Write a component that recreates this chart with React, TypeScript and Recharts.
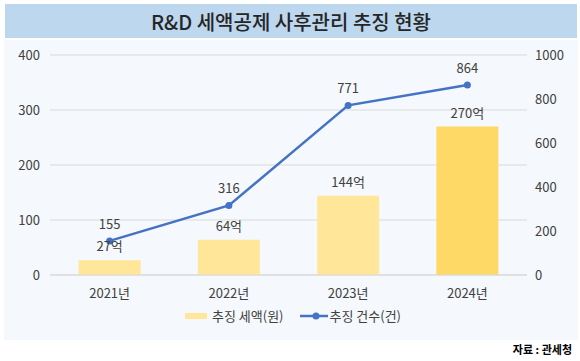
import {
  ComposedChart,
  Bar,
  Line,
  XAxis,
  YAxis,
  CartesianGrid,
  Legend,
  LabelList,
  Cell,
} from 'recharts';

const years = ['2021년', '2022년', '2023년', '2024년'];
const amounts = [27, 64, 144, 270]; // 추징 세액 (억원)
const counts = [155, 316, 771, 864]; // 추징 건수 (건)
const leftTicks = [0, 100, 200, 300, 400];
const rightTicks = [0, 200, 400, 600, 800, 1000];

const data = years.map((year, i) => ({ year, amount: amounts[i], count: counts[i] }));

const FONT = '"Noto Sans CJK KR", "Noto Sans", sans-serif';
const TEXT = '#404040';
const BAR_LIGHT = '#FFE699';
const BAR_DARK = '#FFD966';
const LINE = '#4472C4';

const LegendContent = () => (
  <div
    style={{
      display: 'flex',
      justifyContent: 'center',
      alignItems: 'center',
      gap: 16,
      fontSize: 13,
      color: TEXT,
      fontFamily: FONT,
      paddingLeft: 4,
    }}
  >
    <span style={{ display: 'flex', alignItems: 'center', gap: 5 }}>
      <span style={{ width: 22, height: 6, background: BAR_LIGHT, display: 'inline-block' }} />
      추징 세액(원)
    </span>
    <span style={{ display: 'flex', alignItems: 'center', gap: 2 }}>
      <svg width={28} height={10}>
        <line x1={0} y1={5} x2={28} y2={5} stroke={LINE} strokeWidth={2.5} />
        <circle cx={16} cy={5} r={3.5} fill={LINE} />
      </svg>
      추징 건수(건)
    </span>
  </div>
);

export default function App() {
  return (
    <div
      style={{
        position: 'absolute',
        top: 0,
        left: 0,
        width: 580,
        height: 361,
        background: '#fff',
        fontFamily: FONT,
      }}
    >
      <div
        style={{
          position: 'absolute',
          top: 4,
          left: 5,
          width: 572,
          height: 34,
          background: '#BDD7EE',
          display: 'flex',
          alignItems: 'center',
          justifyContent: 'center',
          fontSize: 20,
          fontWeight: 500,
          color: '#262626',
        }}
      >
        R&amp;D 세액공제 사후관리 추징 현황
      </div>
      <div style={{ position: 'absolute', top: 40, left: 4, width: 574, height: 300, background: '#F5F8FC' }}>
        <ComposedChart
          width={574}
          height={300}
          data={data}
          margin={{ top: 15, right: 6, left: 6, bottom: 12 }}
          barCategoryGap="24%"
        >
          <CartesianGrid vertical={false} stroke="#D9D9D9" yAxisId="left" />
          <XAxis
            dataKey="year"
            tick={{ fill: TEXT, fontSize: 13 }}
            axisLine={{ stroke: '#D9D9D9' }}
            tickLine={false}
            tickMargin={8}
            height={31}
          />
          <YAxis
            yAxisId="left"
            domain={[0, 400]}
            ticks={leftTicks}
            tick={{ fill: TEXT, fontSize: 13 }}
            axisLine={false}
            tickLine={false}
            tickMargin={4}
            width={40}
          />
          <YAxis
            yAxisId="right"
            orientation="right"
            domain={[0, 1000]}
            ticks={rightTicks}
            tick={{ fill: TEXT, fontSize: 13, textAnchor: 'start' }}
            axisLine={false}
            tickLine={false}
            tickMargin={2}
            width={45}
          />
          <Legend verticalAlign="bottom" height={22} content={<LegendContent />} />
          <Bar yAxisId="left" dataKey="amount" name="추징 세액(원)" isAnimationActive={false}>
            {data.map((d, i) => (
              <Cell key={d.year} fill={i === data.length - 1 ? BAR_DARK : BAR_LIGHT} />
            ))}
            <LabelList
              dataKey="amount"
              position="top"
              offset={9}
              formatter={(v: number) => `${v}억`}
              style={{ fill: TEXT, fontSize: 13 }}
            />
          </Bar>
          <Line
            yAxisId="right"
            dataKey="count"
            name="추징 건수(건)"
            stroke={LINE}
            strokeWidth={2.5}
            dot={{ r: 3.5, fill: LINE, stroke: LINE, strokeWidth: 0 }}
            isAnimationActive={false}
          >
            <LabelList dataKey="count" position="top" offset={12} style={{ fill: TEXT, fontSize: 13 }} />
          </Line>
        </ComposedChart>
      </div>
      <div
        style={{
          position: 'absolute',
          right: 8,
          top: 341,
          fontSize: 11,
          fontWeight: 700,
          color: '#000',
        }}
      >
        자료 : 관세청
      </div>
    </div>
  );
}
